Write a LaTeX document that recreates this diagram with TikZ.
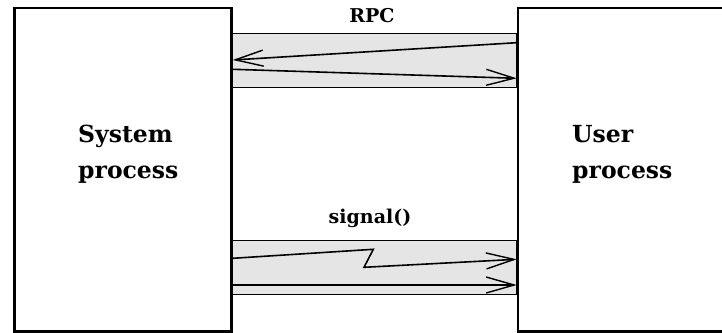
\documentclass[tikz,border=0pt]{standalone}
\usepackage{fontspec}
\setmainfont{DejaVu Serif}
\usetikzlibrary{arrows.meta}
\tikzset{
  procbox/.style={draw, line width=2.7pt, inner sep=0pt, anchor=north west,
    minimum height=323.3pt},
  band/.style={draw, line width=0.8pt, fill=gray!20},
  msg/.style={line width=1.6pt, -{Straight Barb[length=28pt, width=16pt, line width=1.4pt]}},
  proclabel/.style={anchor=base west, align=left, inner sep=0pt,
    font=\fontsize{23.5}{36}\selectfont\bfseries},
  chanlabel/.style={anchor=base, inner sep=0pt,
    font=\fontsize{19}{23}\selectfont\bfseries},
}
\begin{document}
\begin{tikzpicture}[x=1pt, y=-1pt]
  \useasboundingbox (0,0) rectangle (722,332);

  % channel bands between the two processes
  \filldraw[band] (230,33.3) rectangle (516.7,87.3);
  \filldraw[band] (230,240.7) rectangle (516.7,294.3);

  % the two processes (the user process runs off the right edge)
  \node[procbox, minimum width=216.7pt] (sys) at (13.3,6.7) {};
  \node[procbox, minimum width=240pt] (usr) at (516.7,6.7) {};

  % base anchor sits on the last line of each label
  \node[proclabel] (syslabel) at (78,178) {System\\process};
  \node[proclabel] (usrlabel) at (572,178) {User\\process};

  \node[chanlabel] (rpclabel) at (372,22) {RPC};
  \node[chanlabel] (siglabel) at (370,223) {signal()};

  % end points of the messages on the process borders
  \coordinate (rpcA) at (usr.west |- 0,42.7);
  \coordinate (rpcB) at (sys.east |- 0,60);
  \coordinate (rpcC) at (sys.east |- 0,69.3);
  \coordinate (rpcD) at (usr.west |- 0,78.3);
  \coordinate (sigA) at (sys.east |- 0,258.3);
  \coordinate (sigB) at (usr.west |- 0,259.3);
  \coordinate (sigC) at (sys.east |- 0,285);
  \coordinate (sigD) at (usr.west |- 0,285);

  % RPC request and reply
  \draw[msg] (rpcA) -- (rpcB);
  \draw[msg] (rpcC) -- (rpcD);

  % asynchronous signal (broken line) and plain message
  \draw[msg] (sigA) -- (373.3,249.3) -- (364,267.3) -- (sigB);
  \draw[msg] (sigC) -- (sigD);
\end{tikzpicture}
\end{document}
